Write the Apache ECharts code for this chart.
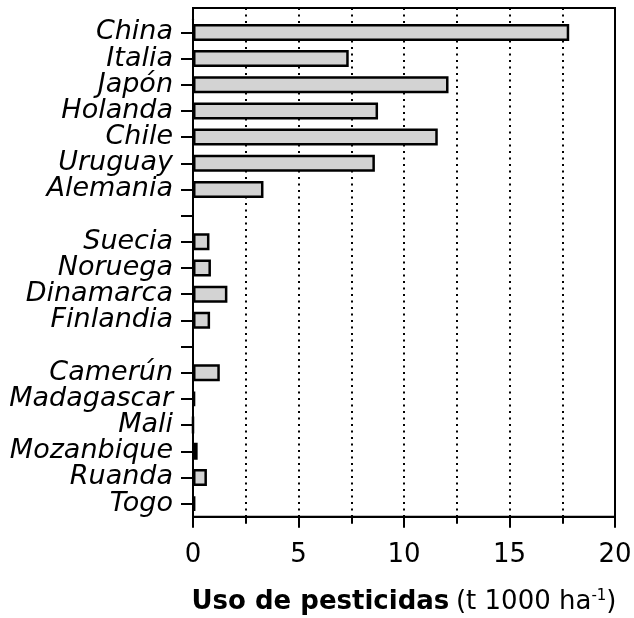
<!DOCTYPE html>
<html>
<head>
<meta charset="utf-8">
<script src="https://cdn.jsdelivr.net/npm/echarts@6/dist/echarts.min.js"></script>
<style>
  html, body { margin: 0; padding: 0; background: #fff; }
  #chart { width: 634px; height: 618px; }
</style>
</head>
<body>
<div id="chart"></div>
<script>
// categories top to bottom, blanks separate the three country groups
const countries = [
  "China", "Italia", "Japón", "Holanda", "Chile", "Uruguay", "Alemania",
  "",
  "Suecia", "Noruega", "Dinamarca", "Finlandia",
  "",
  "Camerún", "Madagascar", "Mali", "Mozanbique", "Ruanda", "Togo",
];
// t per 1000 ha
const usage = [
  17.83, 7.38, 12.11, 8.77, 11.6, 8.62, 3.34,
  null,
  0.78, 0.85, 1.63, 0.81,
  null,
  1.27, 0.1, 0, 0.22, 0.66, 0.11,
];
const xTicks = [0, 5, 10, 15, 20];

const FONT = "DejaVu Sans";
const chart = echarts.init(document.getElementById("chart"));

chart.setOption({
  animation: false,
  grid: [
    { left: 193, right: 19, top: 19.3, bottom: 101.3, outerBoundsMode: "none" },
    {
      left: 193, right: 19, top: 8, bottom: 101.3, outerBoundsMode: "none",
      show: true, borderColor: "#000", borderWidth: 2,
    },
  ],
  xAxis: [
    {
      gridIndex: 0,
      type: "value",
      min: xTicks[0],
      max: xTicks[xTicks.length - 1],
      interval: xTicks[1] - xTicks[0],
      axisLine: { show: true, lineStyle: { color: "#000", width: 2 } },
      axisTick: { show: true, length: 11, lineStyle: { color: "#000", width: 2 } },
      minorTick: { show: true, splitNumber: 2, length: 7, lineStyle: { color: "#000", width: 2 } },
      splitLine: { show: false },
      axisLabel: { color: "#000", fontFamily: FONT, fontSize: 26, margin: 26 },
      name: "{b|Uso de pesticidas}  {n|(t 1000 ha}{sup|-1}{n|)}",
      nameLocation: "middle",
      nameGap: 72,
      nameTextStyle: {
        color: "#000",
        rich: {
          b: { fontFamily: FONT, fontSize: 26, fontWeight: "bold", color: "#000" },
          n: { fontFamily: FONT, fontSize: 26, color: "#000" },
          sup: { fontFamily: FONT, fontSize: 15, color: "#000", padding: [0, 0, 13, 0] },
        },
      },
    },
    {
      gridIndex: 1,
      type: "value",
      min: 0,
      max: 20,
      interval: 2.5,
      axisLine: { show: false },
      axisTick: { show: false },
      axisLabel: { show: false },
      splitLine: { show: true, lineStyle: { color: "#000", width: 2, type: [2, 4.5] } },
    },
  ],
  yAxis: [
    {
      gridIndex: 0,
      type: "category",
      inverse: true,
      data: countries,
      axisLine: { show: true, lineStyle: { color: "#000", width: 2 } },
      axisTick: { show: true, alignWithLabel: true, length: 12, interval: 0, lineStyle: { color: "#000", width: 2 } },
      axisLabel: { color: "#000", fontFamily: FONT, fontStyle: "italic", fontSize: 27, margin: 20, interval: 0 },
      splitLine: { show: false },
    },
    { gridIndex: 1, type: "value", show: false },
  ],
  series: [
    {
      type: "bar",
      xAxisIndex: 0,
      yAxisIndex: 0,
      data: usage,
      barWidth: 17,
      itemStyle: { color: "#d3d3d3", borderColor: "#000", borderWidth: 2.5 },
    },
  ],
});
</script>
</body>
</html>
